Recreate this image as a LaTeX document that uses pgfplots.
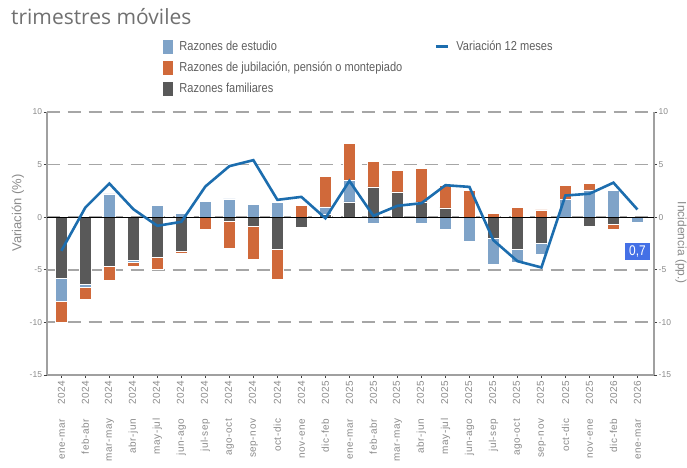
\documentclass[border=0pt]{standalone}
\usepackage{pgfplots}
\pgfplotsset{compat=1.18}
\usepackage{pgfplotstable}
\usepackage{fontspec}
\setmainfont{Liberation Sans}
\newfontfamily\narrow[FakeStretch=0.85]{Liberation Sans}
\newfontfamily\tickfont[LetterSpace=6]{Liberation Sans}
\newfontfamily\titlefont{Open Sans}

\definecolor{estc}{HTML}{7FA3C8}
\definecolor{jubc}{HTML}{D0693A}
\definecolor{famc}{HTML}{595959}
\definecolor{linec}{HTML}{1C6DAE}
\definecolor{boxblue}{HTML}{4470E6}
\definecolor{gridgray}{HTML}{A6A6A6}
\definecolor{axisgray}{HTML}{A0A0A0}
\definecolor{labgray}{HTML}{8A8A8A}
\definecolor{leggray}{HTML}{5F5F5F}
\definecolor{titlegray}{HTML}{707070}
\definecolor{tickdark}{HTML}{404040}

\pgfplotstableread{
x famP estP jubP famN estN jubN var
0  0    0    0     -5.77 -2.19 -2.06 -3.20
1  0    0    0     -6.40 -0.29 -1.11  0.92
2  0    2.22 0     -4.69  0    -1.33  3.20
3  0    0    0     -4.09 -0.19 -0.35  0.76
4  0    1.11 0     -3.80  0    -1.17 -0.82
5  0    0.35 0     -3.20  0    -0.22 -0.44
6  0    1.52 0      0     0    -1.11  2.92
7  0    1.74 0     -0.41  0    -2.50  4.85
8  0    1.20 0     -0.89  0    -3.07  5.42
9  0    1.43 0     -3.04  0    -2.85  1.65
10 0    0    1.14  -0.92  0     0     1.93
11 0.30 0.68 2.92   0     0     0    -0.10
12 1.45 2.08 3.49   0     0     0     3.45
13 2.88 0    2.44   0    -0.55  0     0.13
14 2.40 0    2.03   0     0     0     1.08
15 1.46 0    3.20   0    -0.58  0     1.33
16 0.88 0    2.13   0    -1.14  0     3.04
17 0    0    2.57   0    -2.28  0     2.88
18 0    0    0.38  -2.03 -2.44  0    -2.19
19 0    0    0.95  -3.04 -1.20  0    -4.18
20 0    0    0.70  -2.50 -0.98  0    -4.78
21 0    1.68 1.35   0     0     0     2.06
22 0    2.60 0.60  -0.85  0     0     2.23
23 0    2.52 0     -0.65  0    -0.52  3.28
24 0    0    0      0    -0.44 -0.16  0.73
}\datatable

\newcommand{\tl}[2]{#1\hspace{14bp}#2}

\pgfplotsset{
  common/.style={
    scale only axis, width=607.3bp, height=263bp,
    at={(46.7bp,93bp)}, anchor=south west,
    xmin=-0.61, xmax=24.69, ymin=-15, ymax=10, clip=false,
    /pgf/number format/assume math mode=true,
  },
  barst/.style={fill=#1, draw=white, line width=0.4bp},
}

\begin{document}
\begin{tikzpicture}[x=1bp,y=1bp]
\useasboundingbox (0,0) rectangle (687,468);
\node[anchor=base west, inner sep=0pt, font=\titlefont\fontsize{21bp}{21bp}\selectfont, text=titlegray] at (11,443) {trimestres móviles};

% axis 1: grid, left axis, x labels, positive bars
\begin{axis}[common,
  ybar stacked, bar width=12bp,
  axis x line*=bottom, axis y line*=left,
  axis line style={draw=axisgray, line width=1.6bp, -},
  ytick={-15,-10,-5,0,5,10},
  ymajorgrids, grid style={draw=gridgray, line width=1.8bp, dash pattern=on 13bp off 8bp},
  xtick={0,...,24},
  xticklabels={{\tl{ene-mar}{2024}},{\tl{feb-abr}{2024}},{\tl{mar-may}{2024}},{\tl{abr-jun}{2024}},{\tl{may-jul}{2024}},{\tl{jun-ago}{2024}},{\tl{jul-sep}{2024}},{\tl{ago-oct}{2024}},{\tl{sep-nov}{2024}},{\tl{oct-dic}{2024}},{\tl{nov-ene}{2024}},{\tl{dic-feb}{2025}},{\tl{ene-mar}{2025}},{\tl{feb-abr}{2025}},{\tl{mar-may}{2025}},{\tl{abr-jun}{2025}},{\tl{may-jul}{2025}},{\tl{jun-ago}{2025}},{\tl{jul-sep}{2025}},{\tl{ago-oct}{2025}},{\tl{sep-nov}{2025}},{\tl{oct-dic}{2025}},{\tl{nov-ene}{2025}},{\tl{dic-feb}{2026}},{\tl{ene-mar}{2026}}},
  tick style={draw=tickdark, line width=0.8bp},
  major tick length=3bp, tick align=outside,
  xticklabel style={rotate=90, anchor=east, inner sep=2.5bp, font=\tickfont\fontsize{10bp}{10bp}\selectfont, text=labgray},
  yticklabel style={inner sep=1.5bp, font=\fontsize{8.5bp}{9bp}\selectfont, text=labgray},
  ylabel={Variación (\%)},
  ylabel style={at={(axis description cs:-0.0473,0.616)}, anchor=center, font=\fontsize{13bp}{13bp}\selectfont, text=labgray},
]
\addplot[barst=famc] table[x=x, y=famP] {\datatable};
\addplot[barst=estc] table[x=x, y=estP] {\datatable};
\addplot[barst=jubc] table[x=x, y=jubP] {\datatable};
\end{axis}

% axis 2: negative bars
\begin{axis}[common, hide axis, ybar stacked, bar width=12bp]
\addplot[barst=famc] table[x=x, y=famN] {\datatable};
\addplot[barst=estc] table[x=x, y=estN] {\datatable};
\addplot[barst=jubc] table[x=x, y=jubN] {\datatable};
\end{axis}

% axis 3: right axis, zero line, variation line, legend
\begin{axis}[common,
  axis x line=none, axis y line*=right,
  axis line style={draw=axisgray, line width=1.6bp, -},
  ytick={-15,-10,-5,0,5,10},
  tick style={draw=tickdark, line width=0.8bp},
  major tick length=3bp, tick align=outside,
  yticklabel style={inner sep=1.5bp, font=\fontsize{8.5bp}{9bp}\selectfont, text=labgray},
  ylabel={Incidencia (pp.)},
  ylabel style={at={(axis description cs:1.0445,0.502)}, anchor=center, rotate=180, font=\fontsize{12bp}{12bp}\selectfont, text=labgray},
  legend columns=2,
  legend style={at={(axis description cs:0.1915,1.2738)}, anchor=north west,
    draw=none, fill=none, inner sep=0pt, outer sep=0pt, row sep=7.8bp,
    font=\narrow\fontsize{13bp}{15bp}\selectfont, text=leggray,
    nodes={inner sep=0pt, text height=10bp, text depth=3bp},
    /tikz/every odd column/.append style={column sep=7bp},
    /tikz/every even column/.append style={column sep=0bp}},
  legend cell align=left,
]
\addplot[black, line width=0.8bp, forget plot] coordinates {(-0.61,0) (24.69,0)};
\addplot[linec, line width=2.6bp, miter limit=4, forget plot] table[x=x, y=var] {\datatable};
\node[fill=boxblue, text=white, inner xsep=4bp, inner ysep=2.5bp, text height=10bp, text depth=2bp, font=\narrow\fontsize{14bp}{14bp}\selectfont] at (axis cs:24,-3.28) {0,7};

\addlegendimage{legend image code/.code={\fill[estc] (0bp,-6.5bp) rectangle (9bp,6.5bp);}}
\addlegendentry{\makebox[255bp][l]{Razones de estudio}}
\addlegendimage{legend image code/.code={\draw[linec, line width=3bp] (0bp,0bp) -- (12bp,0bp);}}
\addlegendentry{Variación 12 meses}
\addlegendimage{legend image code/.code={\fill[jubc] (0bp,-6.5bp) rectangle (9bp,6.5bp);}}
\addlegendentry{Razones de jubilación, pensión o montepiado}
\addlegendimage{empty legend}
\addlegendentry{}
\addlegendimage{legend image code/.code={\fill[famc] (0bp,-6.5bp) rectangle (9bp,6.5bp);}}
\addlegendentry{Razones familiares}
\end{axis}
\end{tikzpicture}
\end{document}
